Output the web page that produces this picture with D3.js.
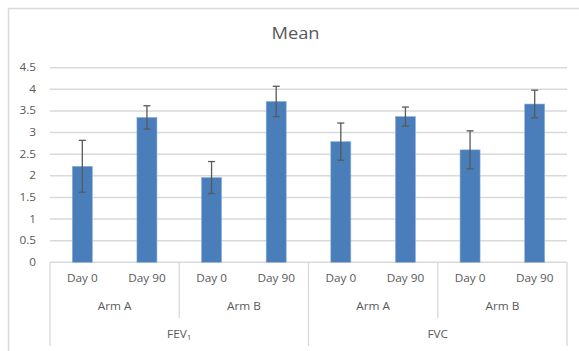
<!DOCTYPE html>
<html><head><meta charset="utf-8">
<script src="https://cdn.jsdelivr.net/npm/d3@7"></script>
<style>body{margin:0;background:#fff}svg{display:block}</style>
</head><body>
<svg id="c" width="579" height="351"></svg>
<script>
const measures = ["FEV", "FVC"];
const arms = ["Arm A", "Arm B"];
const days = ["Day 0", "Day 90"];
const means = [2.22, 3.35, 1.96, 3.72, 2.79, 3.37, 2.60, 3.66];
const errs = [0.60, 0.27, 0.37, 0.35, 0.43, 0.22, 0.44, 0.32];
const yTicks = [0, 0.5, 1, 1.5, 2, 2.5, 3, 3.5, 4, 4.5];

const svg = d3.select("#c");
const font = "'Open Sans', sans-serif";
const sx = 1.18;
const L = 50, R = 567, T = 67.7, B = 262.3;

const cats = [];
measures.forEach((m, mi) => arms.forEach((a, ai) => days.forEach((d, di) => cats.push({m, a, d, i: cats.length}))));

const x = d3.scaleBand().domain(cats.map(c => c.i)).range([L, R]).paddingInner(0.69).paddingOuter(0.345);
const y = d3.scaleLinear().domain([0, 4.5]).range([B, T]);
const step = x.step();

function txt(g, tx, ty, s, size, anchor) {
  return g.append("text").attr("transform", `translate(${tx},${ty}) scale(${sx},1)`)
    .attr("text-anchor", anchor || "middle").attr("font-family", font).attr("font-size", size)
    .attr("fill", "#595959").text(s);
}

// outer border
svg.append("line").attr("x1", 8.5).attr("x2", 8.5).attr("y1", 8).attr("y2", 351).attr("stroke", "#d9d9d9").attr("stroke-width", 1.5);
svg.append("line").attr("x1", 8).attr("x2", 579).attr("y1", 8.5).attr("y2", 8.5).attr("stroke", "#d9d9d9").attr("stroke-width", 1.5);

// title
txt(svg, 295.5, 39, "Mean", 15.5);

// gridlines
svg.append("g").selectAll("line").data(yTicks).join("line")
  .attr("x1", L).attr("x2", R).attr("y1", d => y(d)).attr("y2", d => y(d))
  .attr("stroke", "#d9d9d9").attr("stroke-width", 1.5);

// y tick labels
const yl = svg.append("g");
yTicks.forEach(t => txt(yl, 36, y(t) + 3.5, String(t), 10, "end"));

// bars
svg.append("g").selectAll("rect").data(cats).join("rect")
  .attr("x", c => x(c.i)).attr("width", x.bandwidth())
  .attr("y", c => y(means[c.i])).attr("height", c => y(0) - y(means[c.i]))
  .attr("fill", "#4a7ebb").attr("stroke", "#8fb0dc").attr("stroke-width", 0.6);

// error bars
const eg = svg.append("g").attr("stroke", "#595959").attr("stroke-width", 1.3);
cats.forEach(c => {
  const cx = x(c.i) + x.bandwidth() / 2;
  const hi = y(means[c.i] + errs[c.i]), lo = y(means[c.i] - errs[c.i]);
  eg.append("line").attr("x1", cx).attr("x2", cx).attr("y1", hi).attr("y2", lo);
  eg.append("line").attr("x1", cx - 3.5).attr("x2", cx + 3.5).attr("y1", hi).attr("y2", hi);
  eg.append("line").attr("x1", cx - 3.5).attr("x2", cx + 3.5).attr("y1", lo).attr("y2", lo);
});

// category axis
const ax = svg.append("g");
const sep = (xx, y2) => ax.append("line").attr("x1", xx).attr("x2", xx).attr("y1", B).attr("y2", y2).attr("stroke", "#d9d9d9").attr("stroke-width", 1.3);
cats.forEach(c => {
  txt(ax, x(c.i) + x.bandwidth() / 2, 282, c.d, 10);
});
for (let k = 0; k < 4; k++) {
  const x0 = L + k * 2 * step;
  txt(ax, x0 + step, 310, arms[k % 2], 10);
  if (k % 2 === 1) sep(x0, 318);
}
for (let k = 0; k < 2; k++) {
  const x0 = L + k * 4 * step;
  const t = txt(ax, x0 + 2 * step, 338, measures[k], 10);
  if (k === 0) t.append("tspan").attr("font-size", 7).attr("dy", 2).text("1");
}
[0, 4, 8].forEach(k => sep(L + k * step, 346));
</script>
</body></html>
